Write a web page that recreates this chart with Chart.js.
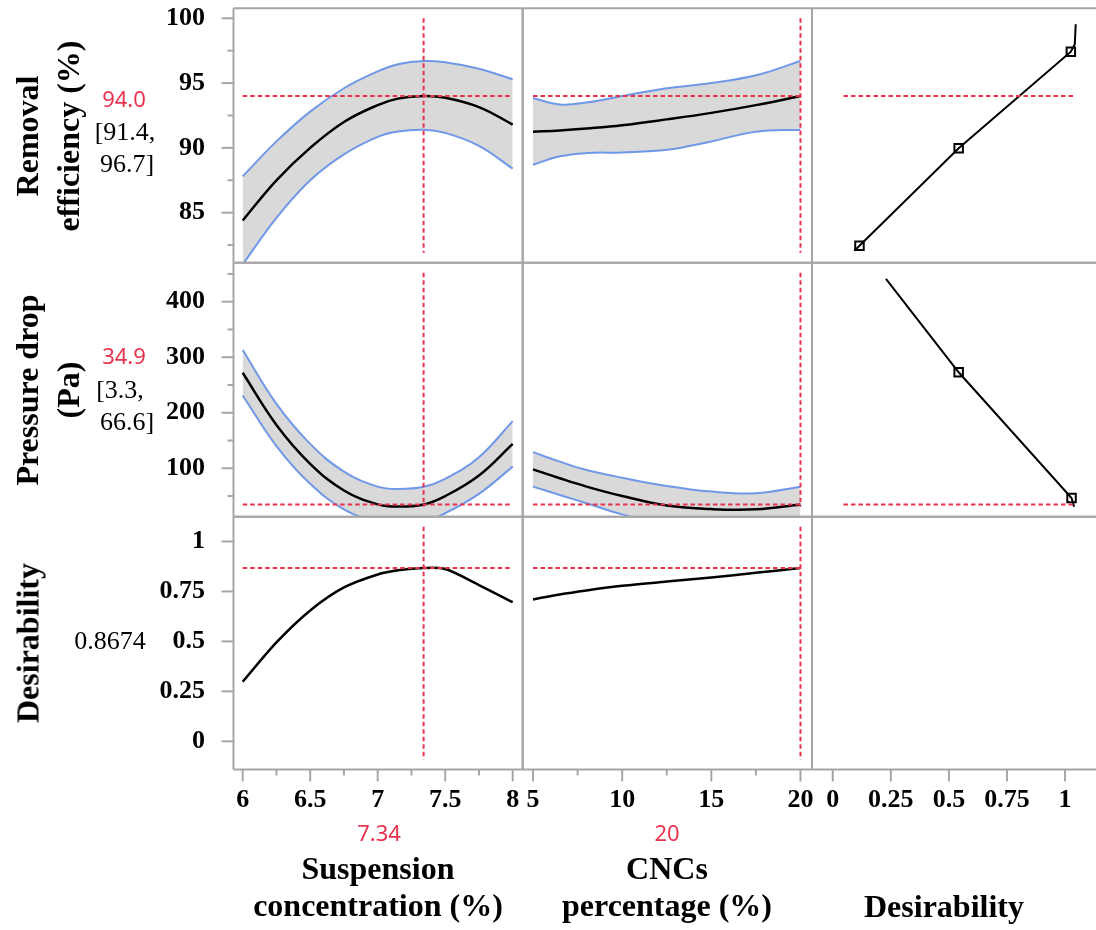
<!DOCTYPE html>
<html>
<head>
<meta charset="utf-8">
<script src="https://cdn.jsdelivr.net/npm/chart.js@4.4.1/dist/chart.umd.min.js"></script>
<style>
  html, body { margin: 0; padding: 0; background: #fff; }
  body { position: relative; width: 1096px; height: 930px; overflow: hidden; }
  canvas { position: absolute; left: 0; top: 0; }
  .lbl { position: absolute; white-space: nowrap; text-align: center; font-family: "Liberation Serif", serif; color: #000; transform: translate(-50%, -50%); }
  .title { font-weight: bold; font-size: 32px; line-height: 37px; }
  .rot { transform: translate(-50%, -50%) rotate(-90deg); line-height: 41px; }
  .red { color: #e8334f; font-family: "Noto Sans", sans-serif; font-size: 22px; }
  .ci { font-size: 26px; line-height: 31px; }
</style>
</head>
<body>
<script>
// factor settings (x axes)
const suspX = [6, 6.25, 6.5, 6.75, 7, 7.15, 7.34, 7.5, 7.75, 8];
const cncX = [5, 6.5, 8, 10, 12.5, 15, 17.5, 20];

// Removal efficiency (%)
const removalSuspMean  = [84.4, 87.5, 90.0, 92.0, 93.3, 93.8, 94.0, 93.87, 93.15, 91.8];
const removalSuspUpper = [87.8, 90.5, 92.8, 94.6, 95.9, 96.45, 96.7, 96.6, 96.1, 95.3];
const removalSuspLower = [81.0, 84.6, 87.5, 89.5, 90.85, 91.26, 91.4, 91.16, 90.16, 88.4];
const removalCncMean  = [91.25, 91.35, 91.5, 91.75, 92.2, 92.7, 93.3, 94.0];
const removalCncUpper = [93.85, 93.35, 93.5, 94.0, 94.6, 95.0, 95.6, 96.7];
const removalCncLower = [88.7, 89.35, 89.6, 89.65, 89.85, 90.5, 91.25, 91.4];

// Pressure drop (Pa)
const pressureSuspMean  = [272, 178, 108, 60, 35, 31, 34.9, 50, 87, 144];
const pressureSuspUpper = [313, 216, 144, 94, 67, 62.7, 66.6, 81, 120, 185];
const pressureSuspLower = [231, 140, 72, 26, 3, -0.7, 3.3, 19, 54, 103];
const pressureCncMean  = [98, 82, 67, 50, 33, 26.5, 26, 34.9];
const pressureCncUpper = [129, 112, 97, 83, 68, 58, 55, 66.6];
const pressureCncLower = [67, 52, 37, 17, -2, -5, -3, 3.3];

// Desirability
const desirSusp = [0.298, 0.495, 0.655, 0.77, 0.835, 0.856, 0.8674, 0.862, 0.782, 0.696];
const desirCnc = [0.71, 0.735, 0.755, 0.778, 0.8, 0.82, 0.843, 0.8674];

// desirability functions (x = desirability)
const removalDesirX = [0.093, 0.115, 0.542, 1.025, 1.042, 1.046];
const removalDesirY = [82.07, 82.45, 89.97, 97.42, 98.0, 99.54];
const removalDesirPtsX = [0.115, 0.542, 1.025];
const removalDesirPtsY = [82.45, 89.97, 97.42];
const pressureDesirX = [0.229, 0.542, 1.028, 1.039];
const pressureDesirY = [440.9, 272.9, 46.5, 30.8];
const pressureDesirPtsX = [0.542, 1.028];
const pressureDesirPtsY = [272.9, 46.5];

// current settings and predictions
const suspSetting = 7.34;
const cncSetting = 20;
const removalPred = 94.0, removalCI = [91.4, 96.7];
const pressurePred = 34.9, pressureCI = [3.3, 66.6];
const desirPred = 0.8674;

// ticks
const suspTicks = [6, 6.5, 7, 7.5, 8];
const suspMinorTicks = [6.25, 6.75, 7.25, 7.75];
const cncTicks = [5, 10, 15, 20];
const cncMinorTicks = [7.5, 12.5, 17.5];
const desirXTicks = [0, 0.25, 0.5, 0.75, 1];
const removalTicks = [85, 90, 95, 100];
const removalMinorTicks = [82.5, 87.5, 92.5, 97.5];
const pressureTicks = [100, 200, 300, 400];
const pressureMinorTicks = [50, 150, 250, 350, 450];
const desirYTicks = [0, 0.25, 0.5, 0.75, 1];

// axis ranges
const suspRange = [5.932, 8.074];
const cncRange = [4.422, 20.645];
const desirXRange = [-0.0894, 1.1333];
const desirSpan = [0.046, 1.045];
const removalRange = [81.14, 100.77];
const pressureRange = [12.8, 470.2];
const desirYRange = [-0.141, 1.124];

const W = 1096, H = 930;
const colEdges = [233.5, 522.7, 812, 1096];
const rowEdges = [8.3, 262.7, 516.7, 769.5];
const frameColor = "#a6a6a6";
const red = "#e8334f";
const blue = "#7098e8";
const bandFill = "#d9d9d9";
const tickFont = { family: "Liberation Serif", weight: "bold", size: 26 };

function xy(xs, ys) { return xs.map((x, i) => ({ x: x, y: ys[i] })); }

function profile(xs, mean, upper, lower)
{
   const sets = [{ data: xy(xs, mean), borderColor: "#000", borderWidth: 2.5 }];
   if (upper)
   {
      sets.push({ data: xy(xs, lower), borderColor: blue, borderWidth: 2 });
      sets.push({ data: xy(xs, upper), borderColor: blue, borderWidth: 2, fill: "-1", backgroundColor: bandFill });
   }
   else
   {
      sets[0].tension = 0.3;
   }
   return sets;
}

function desirCurve(xs, ys, px, py)
{
   return [
      { data: xy(px, py), showLine: false, pointStyle: "rect", pointRadius: 6, pointBorderWidth: 2,
        pointBorderColor: "#000", pointBackgroundColor: "rgba(0,0,0,0)" },
      { data: xy(xs, ys), borderColor: "#000", borderWidth: 2, tension: 0 }
   ];
}

const columns = [
   { range: suspRange, major: suspTicks, minor: suspMinorTicks, setting: suspSetting, span: [suspTicks[0], suspTicks[4]] },
   { range: cncRange, major: cncTicks, minor: cncMinorTicks, setting: cncSetting, span: [cncTicks[0], cncTicks[3]] },
   { range: desirXRange, major: desirXTicks, minor: [], setting: null, span: desirSpan }
];
const rows = [
   { range: removalRange, major: removalTicks, minor: removalMinorTicks, pred: removalPred },
   { range: pressureRange, major: pressureTicks, minor: pressureMinorTicks, pred: pressurePred },
   { range: desirYRange, major: desirYTicks, minor: [], pred: desirPred }
];
const panelSets = [
   [
      profile(suspX, removalSuspMean, removalSuspUpper, removalSuspLower),
      profile(cncX, removalCncMean, removalCncUpper, removalCncLower),
      desirCurve(removalDesirX, removalDesirY, removalDesirPtsX, removalDesirPtsY)
   ],
   [
      profile(suspX, pressureSuspMean, pressureSuspUpper, pressureSuspLower),
      profile(cncX, pressureCncMean, pressureCncUpper, pressureCncLower),
      desirCurve(pressureDesirX, pressureDesirY, pressureDesirPtsX, pressureDesirPtsY)
   ],
   [
      profile(suspX, desirSusp),
      profile(cncX, desirCnc),
      []
   ]
];

function setTicks(scale, major, minor)
{
   scale.ticks = major.map(v => ({ value: v, major: true }))
      .concat(minor.map(v => ({ value: v, major: false })))
      .sort((a, b) => a.value - b.value);
}

// panel border (no right edge on the last column)
const frame =
{
   id: "frame",
   afterDraw(chart, args, opts)
   {
      const a = chart.chartArea, ctx = chart.ctx;
      ctx.save();
      ctx.strokeStyle = frameColor;
      ctx.lineWidth = 2;
      ctx.beginPath();
      ctx.moveTo(a.left, a.bottom); ctx.lineTo(a.left, a.top);
      ctx.moveTo(a.left, a.top); ctx.lineTo(a.right, a.top);
      ctx.moveTo(a.left, a.bottom); ctx.lineTo(a.right, a.bottom);
      if (opts.right) { ctx.moveTo(a.right, a.top); ctx.lineTo(a.right, a.bottom); }
      ctx.stroke();
      ctx.restore();
   }
};

// major / minor tick marks outside the panel
const tickMarks =
{
   id: "tickMarks",
   afterDraw(chart)
   {
      const a = chart.chartArea, ctx = chart.ctx;
      ctx.save();
      ctx.strokeStyle = frameColor;
      ctx.lineWidth = 2;
      Object.values(chart.scales).forEach(scale =>
      {
         if (!scale.options.display) return;
         scale.ticks.forEach(t =>
         {
            const len = t.major ? 12 : 6;
            const p = scale.getPixelForValue(t.value);
            ctx.beginPath();
            if (scale.isHorizontal()) { ctx.moveTo(p, a.bottom); ctx.lineTo(p, a.bottom + len); }
            else { ctx.moveTo(a.left - len, p); ctx.lineTo(a.left, p); }
            ctx.stroke();
         });
      });
      ctx.restore();
   }
};

// red dashed current-setting lines
const crosshair =
{
   id: "crosshair",
   afterDatasetsDraw(chart, args, o)
   {
      if (o.y == null) return;
      const ctx = chart.ctx, a = chart.chartArea, x = chart.scales.x, y = chart.scales.y;
      ctx.save();
      ctx.strokeStyle = red;
      ctx.lineWidth = 2;
      ctx.setLineDash([4.5, 3]);
      const py = y.getPixelForValue(o.y);
      ctx.beginPath();
      ctx.moveTo(x.getPixelForValue(o.from), py);
      ctx.lineTo(x.getPixelForValue(o.to), py);
      ctx.stroke();
      if (o.x != null)
      {
         const px = x.getPixelForValue(o.x);
         ctx.beginPath();
         ctx.moveTo(px, a.top + 10);
         ctx.lineTo(px, a.bottom - 10);
         ctx.stroke();
      }
      ctx.restore();
   }
};

rows.forEach((row, r) =>
{
   columns.forEach((col, c) =>
   {
      const canvas = document.createElement("canvas");
      canvas.width = W;
      canvas.height = H;
      document.body.appendChild(canvas);

      const xScale =
      {
         type: "linear", min: col.range[0], max: col.range[1], bounds: "data",
         display: r === 2,
         grid: { display: false, drawTicks: false },
         border: { display: false },
         afterBuildTicks: s => setTicks(s, col.major, col.minor),
         ticks: { autoSkip: false, maxRotation: 0, padding: 15, font: tickFont, color: "#000",
                  callback: v => col.major.includes(v) ? String(v) : "" }
      };
      if (r === 2) xScale.afterFit = s => { s.height = H - rowEdges[3]; s.paddingLeft = 0; s.paddingRight = 0; };

      const yScale =
      {
         type: "linear", min: row.range[0], max: row.range[1], bounds: "data",
         display: c === 0,
         grid: { display: false, drawTicks: false },
         border: { display: false },
         afterBuildTicks: s => setTicks(s, row.major, row.minor),
         ticks: { autoSkip: false, padding: 28.5, font: tickFont, color: "#000",
                  callback: v => row.major.includes(v) ? String(v) : "" }
      };
      if (c === 0) yScale.afterFit = s => { s.width = colEdges[0]; s.paddingTop = 0; s.paddingBottom = 0; };

      const showCross = !(r === 2 && c === 2);

      new Chart(canvas,
      {
         type: "line",
         data: { datasets: panelSets[r][c] },
         options:
         {
            responsive: false,
            animation: false,
            events: [],
            elements:
            {
               point: { radius: 0 },
               line: { tension: 0.4, fill: false }
            },
            layout:
            {
               autoPadding: false,
               padding:
               {
                  top: rowEdges[r],
                  bottom: r === 2 ? 0 : H - rowEdges[r + 1],
                  left: c === 0 ? 0 : colEdges[c],
                  right: W - colEdges[c + 1]
               }
            },
            scales: { x: xScale, y: yScale },
            plugins:
            {
               legend: { display: false },
               tooltip: { enabled: false },
               frame: { right: c < 2 },
               crosshair: showCross ? { y: row.pred, from: col.span[0], to: col.span[1], x: col.setting } : {}
            }
         },
         plugins: [frame, tickMarks, crosshair]
      });
   });
});

// text labels
function addLabel(html, cls, cx, cy)
{
   const d = document.createElement("div");
   d.className = "lbl " + cls;
   d.style.left = cx + "px";
   d.style.top = cy + "px";
   d.innerHTML = html;
   document.body.appendChild(d);
}

addLabel("Removal<br>efficiency (%)", "title rot", 47.5, 135.5);
addLabel("Pressure drop<br>(Pa)", "title rot", 47.5, 390);
addLabel("Desirability", "title rot", 28, 643);

addLabel(removalPred.toFixed(1), "red", 124, 98);
addLabel("[" + removalCI[0].toFixed(1) + ",", "ci", 125, 131);
addLabel(removalCI[1].toFixed(1) + "]", "ci", 127, 163);
addLabel(pressurePred.toFixed(1), "red", 124, 355);
addLabel("[" + pressureCI[0].toFixed(1) + ",", "ci", 120, 389);
addLabel(pressureCI[1].toFixed(1) + "]", "ci", 127, 421);
addLabel(desirPred.toFixed(4), "ci", 110, 640);

addLabel(String(suspSetting), "red", 379, 832);
addLabel(String(cncSetting), "red", 667, 832);

addLabel("Suspension<br>concentration (%)", "title", 378, 887);
addLabel("CNCs<br>percentage (%)", "title", 667, 887);
addLabel("Desirability", "title", 944, 906);
</script>
</body>
</html>
